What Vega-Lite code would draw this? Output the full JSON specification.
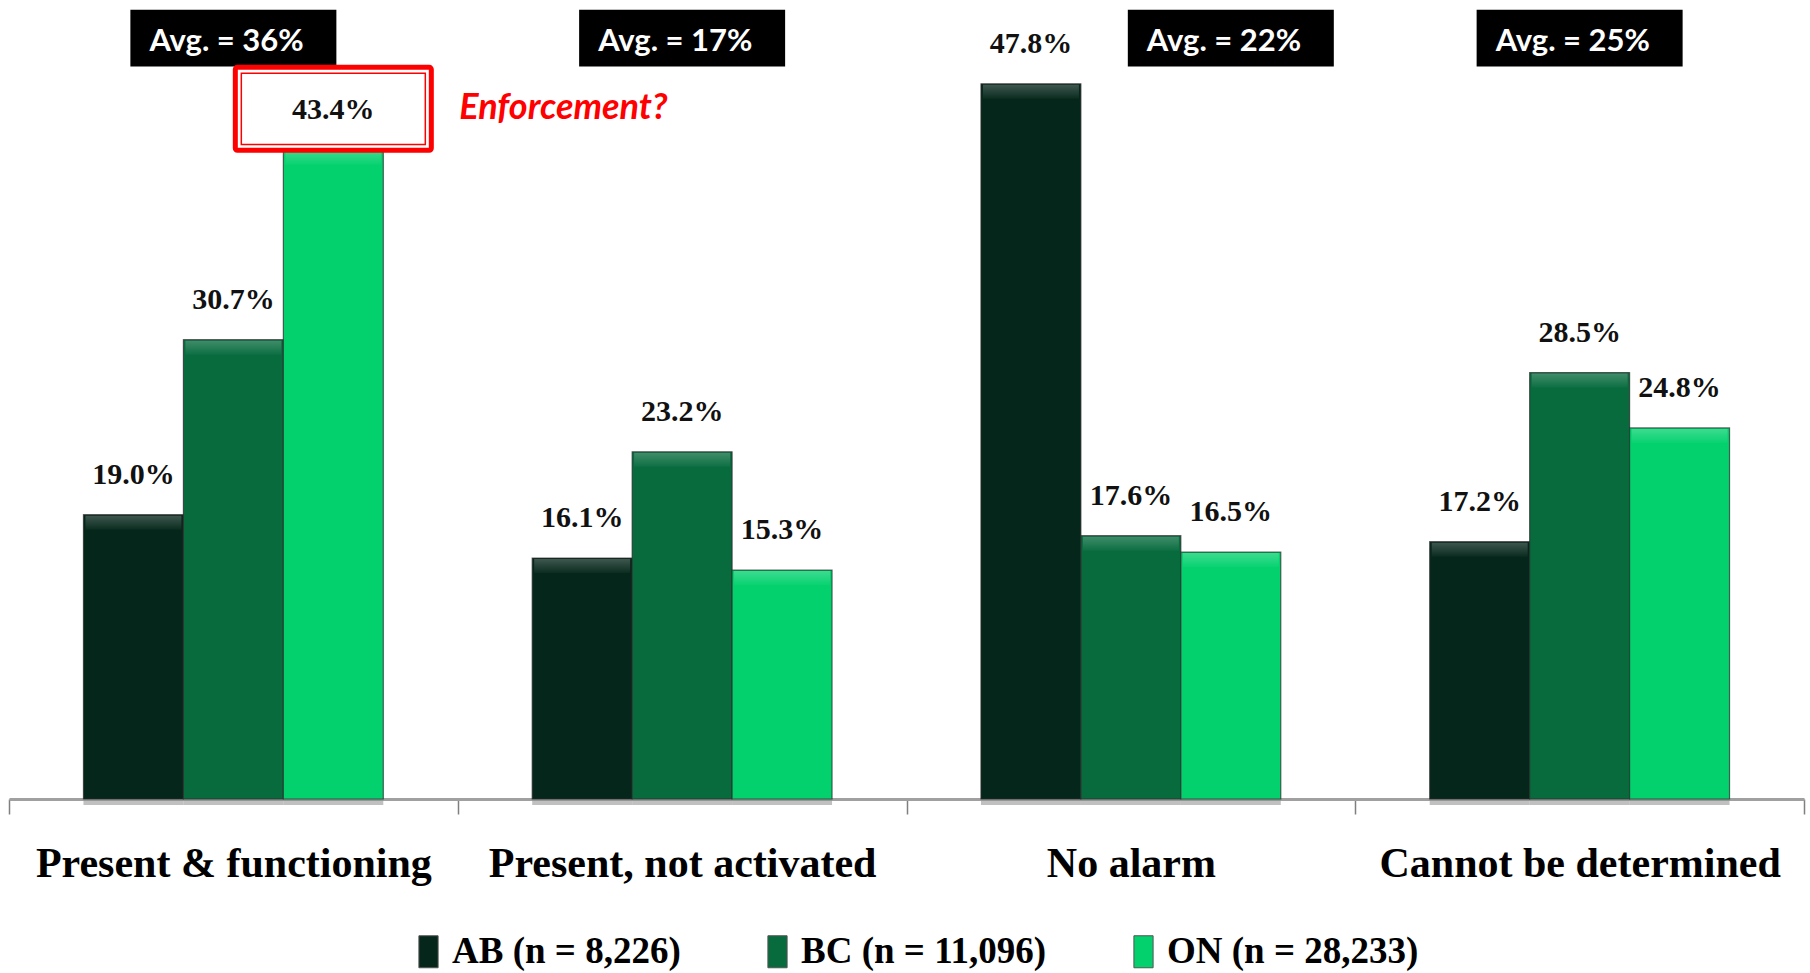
{
  "$schema": "https://vega.github.io/schema/vega-lite/v6.json",
  "width": 1795,
  "height": 799,
  "autosize": {"type": "none"},
  "padding": {"left": 9, "top": 0, "right": 6, "bottom": 174},
  "background": "white",
  "config": {"view": {"stroke": null}},
  "datasets": {
    "shares": [
      {"status": "Present & functioning", "province": "AB", "pct": 19.0},
      {"status": "Present & functioning", "province": "BC", "pct": 30.7},
      {"status": "Present & functioning", "province": "ON", "pct": 43.4},
      {"status": "Present, not activated", "province": "AB", "pct": 16.1},
      {"status": "Present, not activated", "province": "BC", "pct": 23.2},
      {"status": "Present, not activated", "province": "ON", "pct": 15.3},
      {"status": "No alarm", "province": "AB", "pct": 47.8},
      {"status": "No alarm", "province": "BC", "pct": 17.6},
      {"status": "No alarm", "province": "ON", "pct": 16.5},
      {"status": "Cannot be determined", "province": "AB", "pct": 17.2},
      {"status": "Cannot be determined", "province": "BC", "pct": 28.5},
      {"status": "Cannot be determined", "province": "ON", "pct": 24.8}
    ],
    "averages": [
      {"status": "Present & functioning", "anchor": "BC", "avg": "Avg. = 36%"},
      {"status": "Present, not activated", "anchor": "BC", "avg": "Avg. = 17%"},
      {"status": "No alarm", "anchor": "ON", "avg": "Avg. = 22%"},
      {"status": "Cannot be determined", "anchor": "BC", "avg": "Avg. = 25%"}
    ],
    "notes": [
      {"status": "Present & functioning", "province": "ON", "pct": 43.4, "note": "Enforcement?"}
    ]
  },
  "encoding": {
    "x": {
      "field": "status",
      "type": "nominal",
      "sort": ["Present & functioning", "Present, not activated", "No alarm", "Cannot be determined"],
      "scale": {"paddingInner": 0, "paddingOuter": 0},
      "axis": {
        "title": null,
        "labelAngle": 0,
        "labelFont": "Liberation Serif",
        "labelFontSize": 42,
        "labelFontWeight": "bold",
        "labelColor": "#000000",
        "labelBaseline": "alphabetic",
        "labelPadding": 62,
        "labelLimit": 600,
        "tickBand": "extent",
        "tickSize": 15,
        "tickColor": "#7f7f7f",
        "tickWidth": 1.5,
        "domainColor": "#a0a0a0",
        "domainWidth": 3
      }
    }
  },
  "layer": [
    {
      "data": {"name": "shares"},
      "mark": {"type": "bar", "fill": "#8c8c8c", "opacity": 0.55, "xOffset": 3, "yOffset": 6},
      "encoding": {
        "xOffset": {"field": "province", "type": "nominal", "scale": {"domain": ["AB", "BC", "ON"], "paddingInner": 0, "paddingOuter": 0.745}},
        "y": {"field": "pct", "type": "quantitative", "scale": {"domain": [0, 53.4], "nice": false, "zero": true}, "axis": null}
      }
    },
    {
      "data": {"name": "shares"},
      "mark": {"type": "bar", "stroke": "#2b2b2b", "strokeWidth": 1.2, "strokeOpacity": 0.7},
      "encoding": {
        "xOffset": {"field": "province", "type": "nominal"},
        "y": {"field": "pct", "type": "quantitative"},
        "color": {
          "field": "province",
          "type": "nominal",
          "scale": {"domain": ["AB", "BC", "ON"], "range": ["#05261A", "#076B3E", "#02D16E"]},
          "legend": {
            "title": null,
            "orient": "none",
            "direction": "horizontal",
            "legendX": 401,
            "legendY": 933,
            "padding": 0,
            "symbolType": "M-0.6,-1H0.6V1H-0.6Z",
            "symbolSize": 1024,
            "symbolStrokeColor": "#555555",
            "symbolStrokeWidth": 1,
            "labelFont": "Liberation Serif",
            "labelFontSize": 37,
            "labelFontWeight": "bold",
            "labelColor": "#000000",
            "labelOffset": 5,
            "labelLimit": 600,
            "columnPadding": 78,
            "labelExpr": "{'AB': 'AB (n = 8,226)', 'BC': 'BC (n = 11,096)', 'ON': 'ON (n = 28,233)'}[datum.label]"
          }
        }
      }
    },
    {
      "data": {"name": "shares"},
      "mark": {
        "type": "tick",
        "thickness": 14,
        "size": 96,
        "yOffset": 8,
        "color": {
          "gradient": "linear",
          "x1": 0, "y1": 0, "x2": 0, "y2": 1,
          "stops": [
            {"offset": 0, "color": "rgba(255,255,255,0.32)"},
            {"offset": 1, "color": "rgba(255,255,255,0.04)"}
          ]
        }
      },
      "encoding": {
        "xOffset": {"field": "province", "type": "nominal"},
        "y": {"field": "pct", "type": "quantitative"}
      }
    },
    {
      "data": {"name": "averages"},
      "mark": {"type": "bar", "fill": "#000000", "width": 206},
      "encoding": {
        "xOffset": {"field": "anchor", "type": "nominal"},
        "y": {"datum": 52.75},
        "y2": {"datum": 48.95}
      }
    },
    {
      "data": {"name": "averages"},
      "mark": {"type": "text", "align": "left", "baseline": "middle", "dx": -84, "font": "Lato", "fontSize": 31, "fontWeight": "bold", "color": "#ffffff"},
      "encoding": {
        "xOffset": {"field": "anchor", "type": "nominal"},
        "y": {"datum": 50.6},
        "text": {"field": "avg"}
      }
    },
    {
      "data": {"name": "notes"},
      "mark": {"type": "bar", "fill": "#ffffff", "stroke": "#ff0000", "strokeWidth": 5, "width": 196, "cornerRadius": 2},
      "encoding": {
        "xOffset": {"field": "province", "type": "nominal"},
        "y": {"datum": 48.9},
        "y2": {"datum": 43.35}
      }
    },
    {
      "data": {"name": "notes"},
      "mark": {"type": "bar", "fill": null, "stroke": "#ff0000", "strokeWidth": 1.5, "width": 184},
      "encoding": {
        "xOffset": {"field": "province", "type": "nominal"},
        "y": {"datum": 48.5},
        "y2": {"datum": 43.75}
      }
    },
    {
      "data": {"name": "shares"},
      "transform": [{"calculate": "format(datum.pct, '.1f') + '%'", "as": "label"}],
      "mark": {"type": "text", "baseline": "middle", "dy": -40, "font": "Liberation Serif", "fontSize": 30, "fontWeight": "bold", "color": "#111111"},
      "encoding": {
        "xOffset": {"field": "province", "type": "nominal"},
        "y": {"field": "pct", "type": "quantitative"},
        "text": {"field": "label"}
      }
    },
    {
      "data": {"name": "notes"},
      "mark": {"type": "text", "align": "left", "baseline": "middle", "dx": 126, "dy": -42, "font": "Lato", "fontSize": 36, "fontStyle": "italic", "fontWeight": "bold", "color": "#ff0000"},
      "encoding": {
        "xOffset": {"field": "province", "type": "nominal"},
        "y": {"field": "pct", "type": "quantitative"},
        "text": {"field": "note"}
      }
    }
  ]
}
